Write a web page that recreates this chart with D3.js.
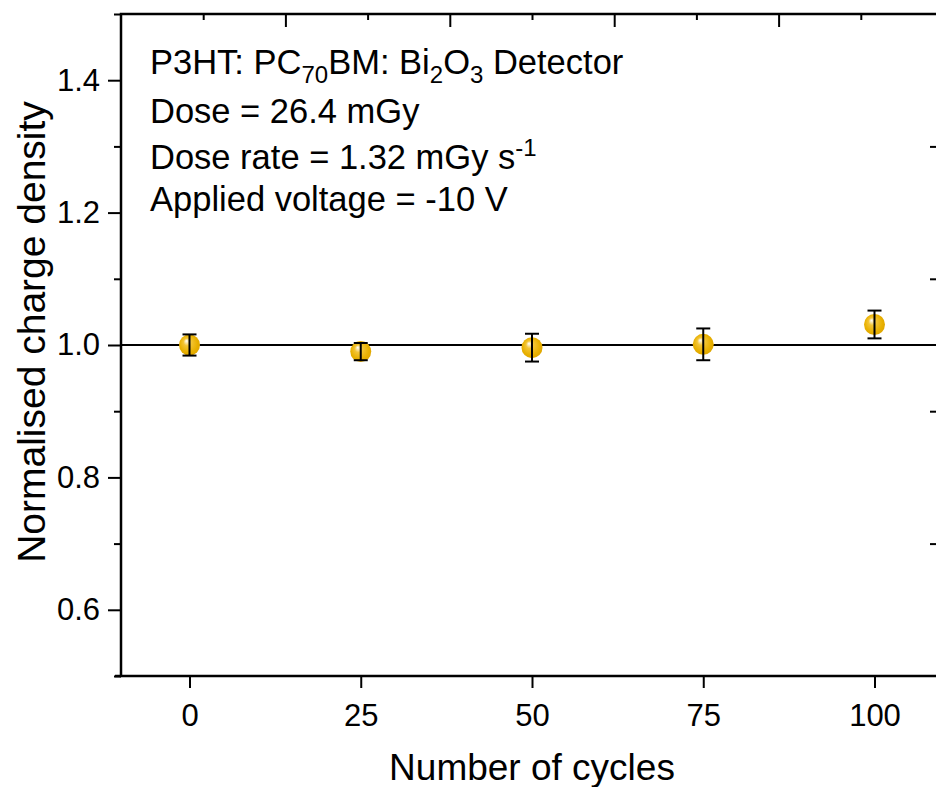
<!DOCTYPE html>
<html>
<head>
<meta charset="utf-8">
<script src="https://cdn.jsdelivr.net/npm/d3@7"></script>
<style>
  html, body { margin: 0; padding: 0; background: #fff; }
  svg { display: block; font-family: "Liberation Sans", Arial, sans-serif; }
</style>
</head>
<body>
<svg id="chart" width="936" height="787"></svg>
<script>
// Charge density after repeated irradiation cycles
const cycles = [0, 25, 50, 75, 100];
const normCharge = [1.000, 0.990, 0.996, 1.001, 1.031];
const chargeErr = [0.016, 0.013, 0.021, 0.024, 0.021];
const yTicks = [0.6, 0.8, 1.0, 1.2, 1.4];
const yMinor = [0.5, 0.7, 0.9, 1.1, 1.3, 1.5];
const xTicks = [0, 25, 50, 75, 100];
const referenceLevel = 1.0;

const svg = d3.select("#chart");
const plotL = 121, plotR = 943, plotT = 14, plotB = 676;

const x = d3.scaleLinear().domain([-10, 110]).range([plotL, plotR]);
const y = d3.scaleLinear().domain([0.5, 1.5]).range([plotB, plotT]);
const xTop = d3.scaleLinear().domain([0, 5]).range([plotL, plotR]);

// marker gradient
const defs = svg.append("defs");
const grad = defs.append("radialGradient").attr("id", "ball")
  .attr("cx", "0.5").attr("cy", "0.5").attr("r", "0.6")
  .attr("fx", "0.35").attr("fy", "0.3");
grad.append("stop").attr("offset", "0").attr("stop-color", "#ffffff");
grad.append("stop").attr("offset", "0.3").attr("stop-color", "#f3c535");
grad.append("stop").attr("offset", "0.7").attr("stop-color", "#e8b000");
grad.append("stop").attr("offset", "1").attr("stop-color", "#d9a000");

// reference line at 1.0
svg.append("line")
  .attr("x1", plotL).attr("x2", plotR)
  .attr("y1", y(referenceLevel)).attr("y2", y(referenceLevel))
  .attr("stroke", "#000").attr("stroke-width", 2);

// axes
const axisStyle = g => {
  g.select(".domain").remove();
  g.selectAll(".tick line").attr("stroke", "#000").attr("stroke-width", 2);
  g.selectAll(".tick text").attr("fill", "#000").style("font-family", '"Liberation Sans", Arial, sans-serif');
};

// bottom
svg.append("g").attr("transform", `translate(0,${plotB})`)
  .call(d3.axisBottom(x).tickValues(xTicks).tickSize(12).tickPadding(16).tickFormat(d3.format("d")))
  .call(axisStyle)
  .call(g => g.selectAll(".tick text").style("font-size", "31px"));

// left major + minor
svg.append("g").attr("transform", `translate(${plotL},0)`)
  .call(d3.axisLeft(y).tickValues(yTicks).tickSize(13).tickPadding(8).tickFormat(d3.format(".1f")))
  .call(axisStyle)
  .call(g => g.selectAll(".tick text").style("font-size", "31px"));
svg.append("g").attr("transform", `translate(${plotL},0)`)
  .call(d3.axisLeft(y).tickValues(yMinor).tickSize(7).tickFormat(""))
  .call(axisStyle);

// top (unlabelled)
svg.append("g").attr("transform", `translate(0,${plotT})`)
  .call(d3.axisBottom(xTop).tickValues([1, 2, 3, 4, 5]).tickSize(13).tickFormat(""))
  .call(axisStyle);
svg.append("g").attr("transform", `translate(0,${plotT})`)
  .call(d3.axisBottom(xTop).tickValues([0.5, 1.5, 2.5, 3.5, 4.5]).tickSize(6).tickFormat(""))
  .call(axisStyle);

// right (unlabelled)
svg.append("g").attr("transform", `translate(${plotR},0)`)
  .call(d3.axisLeft(y).tickValues([0.7, 0.9, 1.1, 1.3]).tickSize(13).tickFormat(""))
  .call(axisStyle);

// frame
svg.append("path")
  .attr("d", `M${plotL},${plotT}H${plotR}V${plotB}H${plotL}Z`)
  .attr("fill", "none").attr("stroke", "#000").attr("stroke-width", 2.5);
svg.append("line").attr("x1", plotL - 6).attr("x2", plotL)
  .attr("y1", plotB).attr("y2", plotB).attr("stroke", "#000").attr("stroke-width", 2.5);

// points with error bars
const pts = cycles.map((c, i) => ({ c, v: normCharge[i], e: chargeErr[i] }));
const pg = svg.append("g");
pg.selectAll("circle").data(pts).join("circle")
  .attr("cx", d => x(d.c)).attr("cy", d => y(d.v)).attr("r", 10.5)
  .attr("fill", "url(#ball)");
const eb = pg.selectAll("g.err").data(pts).join("g").attr("class", "err")
  .attr("stroke", "#000").attr("stroke-width", 2);
eb.append("line").attr("x1", d => x(d.c)).attr("x2", d => x(d.c))
  .attr("y1", d => y(d.v - d.e)).attr("y2", d => y(d.v + d.e));
eb.append("line").attr("x1", d => x(d.c) - 7).attr("x2", d => x(d.c) + 7)
  .attr("y1", d => y(d.v + d.e)).attr("y2", d => y(d.v + d.e));
eb.append("line").attr("x1", d => x(d.c) - 7).attr("x2", d => x(d.c) + 7)
  .attr("y1", d => y(d.v - d.e)).attr("y2", d => y(d.v - d.e));

// axis titles
svg.append("text").attr("x", 532).attr("y", 780)
  .attr("text-anchor", "middle").style("font-size", "37px").text("Number of cycles");
svg.append("text").attr("transform", `translate(45,332) rotate(-90)`)
  .attr("text-anchor", "middle").style("font-size", "39px").text("Normalised charge density");

// annotation block
const ann = svg.append("g").style("font-size", "34.5px");
const l1 = ann.append("text").attr("x", 150).attr("y", 74);
l1.append("tspan").text("P3HT: PC");
l1.append("tspan").attr("dy", 9).style("font-size", "24px").text("70");
l1.append("tspan").attr("dy", -9).text("BM: Bi");
l1.append("tspan").attr("dy", 9).style("font-size", "24px").text("2");
l1.append("tspan").attr("dy", -9).text("O");
l1.append("tspan").attr("dy", 9).style("font-size", "24px").text("3");
l1.append("tspan").attr("dy", -9).text(" Detector");
ann.append("text").attr("x", 150).attr("y", 123).text("Dose = 26.4 mGy");
const l3 = ann.append("text").attr("x", 150).attr("y", 169);
l3.append("tspan").text("Dose rate = 1.32 mGy s");
l3.append("tspan").attr("dy", -13).style("font-size", "24px").text("-1");
ann.append("text").attr("x", 150).attr("y", 211).text("Applied voltage = -10 V");
</script>
</body>
</html>
